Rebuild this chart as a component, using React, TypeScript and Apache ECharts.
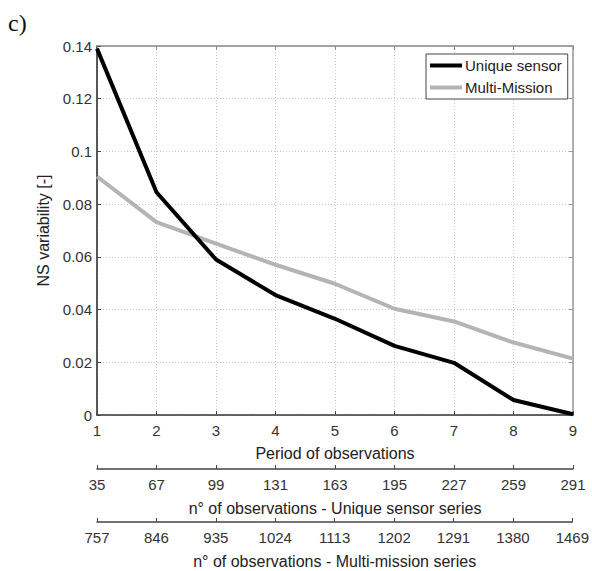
import React, { useEffect, useRef } from "react";
import * as echarts from "echarts";

// Observation periods (x positions on the main axis)
const periods = [1, 2, 3, 4, 5, 6, 7, 8, 9];
// NS variability per period
const uniqueSensor = [0.139, 0.0845, 0.059, 0.0455, 0.0365, 0.0262, 0.0198, 0.0057, 0.0003];
const multiMission = [0.0905, 0.0732, 0.065, 0.057, 0.0498, 0.0403, 0.0355, 0.0275, 0.0214];
// Number of observations for each period, per series type
const uniqueSensorCounts = ["35", "67", "99", "131", "163", "195", "227", "259", "291"];
const multiMissionCounts = ["757", "846", "935", "1024", "1113", "1202", "1291", "1380", "1469"];

const FONT = "'Liberation Sans', Arial, sans-serif";
const TXT = "#333";
const TICK_SIZE = 15;
const TITLE_SIZE = 16;

export default function App() {
  const ref = useRef<HTMLDivElement>(null);

  useEffect(() => {
    document.body.style.margin = "0";
    document.body.style.overflow = "hidden";
    if (!ref.current) return;
    const chart = echarts.init(ref.current, undefined, { renderer: "svg" });

    const secondaryAxis = (gridIndex: number, labels: string[], name: string) => ({
      gridIndex,
      type: "value",
      min: 1,
      max: 9,
      interval: 1,
      position: "bottom",
      axisLine: { show: true, lineStyle: { color: "#444", width: 1.5 } },
      axisTick: { show: true, inside: true, length: 4, lineStyle: { color: "#444" } },
      axisLabel: {
        show: true,
        margin: 8,
        fontSize: TICK_SIZE,
        color: TXT,
        fontFamily: FONT,
        formatter: (v: number) => labels[Math.round(v) - 1] ?? "",
      },
      splitLine: { show: false },
      name,
      nameLocation: "middle",
      nameGap: 31,
      nameTextStyle: { fontSize: TITLE_SIZE, color: "#222", fontFamily: FONT },
    });

    const hiddenY = (gridIndex: number) => ({
      gridIndex,
      type: "value",
      show: false,
      min: 0,
      max: 1,
    });

    chart.setOption({
      animation: false,
      backgroundColor: "#fff",
      textStyle: { fontFamily: FONT },
      grid: [
        { left: 97, right: 19, top: 46, height: 369 },
        { left: 97, right: 19, top: 468, height: 1 },
        { left: 97, right: 19, top: 521, height: 1 },
      ],
      legend: {
        left: 426,
        top: 54,
        orient: "vertical",
        itemWidth: 32,
        itemHeight: 4,
        itemGap: 7,
        padding: [4, 6, 4, 4],
        backgroundColor: "#fff",
        borderColor: "#444",
        borderWidth: 1,
        icon: "rect",
        textStyle: { fontSize: 15, color: "#222", fontFamily: FONT, padding: [0, 0, 0, -2] },
        data: ["Unique sensor", "Multi-Mission"],
      },
      xAxis: [
        {
          gridIndex: 0,
          type: "value",
          min: 1,
          max: 9,
          interval: 1,
          position: "bottom",
          axisLine: { show: true, onZero: false, lineStyle: { color: "#333", width: 1.5 } },
          axisTick: { show: true, inside: true, length: 4, lineStyle: { color: "#444" } },
          axisLabel: { margin: 8, fontSize: TICK_SIZE, color: TXT, fontFamily: FONT },
          splitLine: { show: true, lineStyle: { color: "#c8c8c8", type: [1, 2], width: 1 } },
          name: "Period of observations",
          nameLocation: "middle",
          nameGap: 30,
          nameTextStyle: { fontSize: TITLE_SIZE, color: "#222", fontFamily: FONT },
        },
        {
          gridIndex: 0,
          type: "value",
          min: 1,
          max: 9,
          interval: 1,
          position: "top",
          axisLine: { show: true, onZero: false, lineStyle: { color: "#888", width: 1.5 } },
          axisTick: { show: true, inside: true, length: 4, lineStyle: { color: "#888" } },
          axisLabel: { show: false },
          splitLine: { show: false },
        },
        secondaryAxis(1, uniqueSensorCounts, "n° of observations - Unique sensor series"),
        secondaryAxis(2, multiMissionCounts, "n° of observations - Multi-mission series"),
      ],
      yAxis: [
        {
          gridIndex: 0,
          type: "value",
          min: 0,
          max: 0.14,
          interval: 0.02,
          position: "left",
          axisLine: { show: true, onZero: false, lineStyle: { color: "#222", width: 1.5 } },
          axisTick: { show: true, inside: true, length: 4, lineStyle: { color: "#444" } },
          axisLabel: {
            margin: 5,
            fontSize: TICK_SIZE,
            color: TXT,
            fontFamily: FONT,
            formatter: (v: number) => String(+v.toFixed(2)),
          },
          splitLine: { show: true, lineStyle: { color: "#c8c8c8", type: [1, 2], width: 1 } },
          name: "NS variability [-]",
          nameLocation: "middle",
          nameGap: 31,
          nameRotate: 90,
          nameTextStyle: { fontSize: TITLE_SIZE, color: "#222", fontFamily: FONT },
        },
        {
          gridIndex: 0,
          type: "value",
          min: 0,
          max: 0.14,
          interval: 0.02,
          position: "right",
          axisLine: { show: true, onZero: false, lineStyle: { color: "#999", width: 1.5 } },
          axisTick: { show: true, inside: true, length: 4, lineStyle: { color: "#999" } },
          axisLabel: { show: false },
          splitLine: { show: false },
        },
        hiddenY(1),
        hiddenY(2),
      ],
      graphic: [
        {
          type: "text",
          left: 8,
          top: 11,
          style: {
            text: "c)",
            fontSize: 24,
            fontFamily: "'Liberation Serif', 'DejaVu Serif', serif",
            fill: "#111",
          },
        },
      ],
      series: [
        {
          name: "Multi-Mission",
          type: "line",
          xAxisIndex: 0,
          yAxisIndex: 0,
          data: periods.map((p, i) => [p, multiMission[i]]),
          symbol: "none",
          lineStyle: { color: "#b4b4b4", width: 4 },
          itemStyle: { color: "#b4b4b4" },
          z: 3,
        },
        {
          name: "Unique sensor",
          type: "line",
          xAxisIndex: 0,
          yAxisIndex: 0,
          data: periods.map((p, i) => [p, uniqueSensor[i]]),
          symbol: "none",
          lineStyle: { color: "#000", width: 4 },
          itemStyle: { color: "#000" },
          z: 4,
        },
      ],
    });

    return () => chart.dispose();
  }, []);

  return <div ref={ref} style={{ width: 592, height: 571 }} />;
}
